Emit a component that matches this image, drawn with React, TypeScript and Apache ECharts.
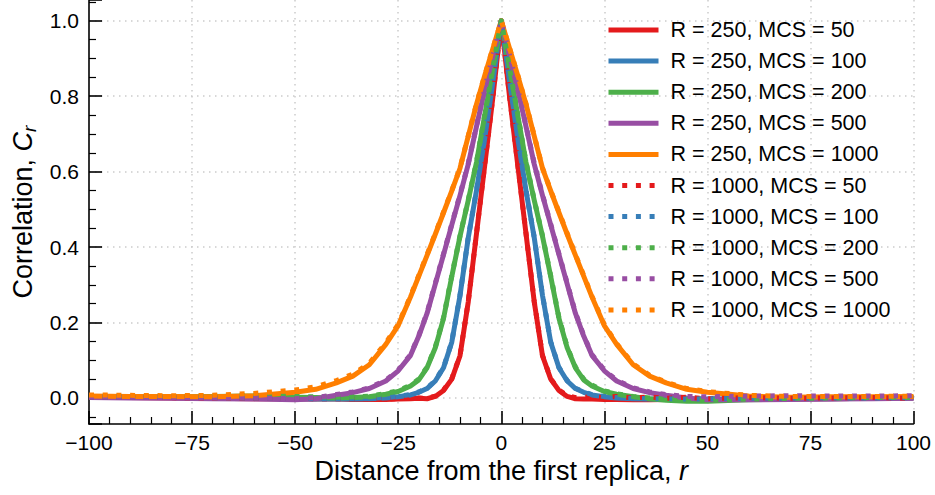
import { useEffect, useRef } from 'react';
import * as echarts from 'echarts';

const R = [-100, -90, -80, -70, -60, -50, -45, -40, -36, -32, -28, -25, -22, -20, -18, -16, -14, -12, -10, -8, -6, -4, -2, 0, 2, 4, 6, 8, 10, 12, 14, 16, 18, 20, 22, 25, 28, 32, 36, 40, 45, 50, 60, 70, 80, 90, 100];

const red250 = [0.002, 0.001, 0.0, -0.001, -0.002, -0.002, -0.003, -0.003, -0.004, -0.004, -0.004, -0.003, -0.002, -0.001, -0.002, 0.004, 0.02, 0.05, 0.112, 0.255, 0.436, 0.618, 0.8, 1.0, 0.8, 0.618, 0.436, 0.255, 0.112, 0.05, 0.02, 0.004, -0.002, -0.003, -0.003, -0.004, -0.004, -0.005, -0.005, -0.004, -0.004, -0.004, -0.003, -0.003, -0.002, -0.001, 0.0];
const blue250 = [0.002, 0.002, 0.001, 0.0, -0.001, -0.002, -0.003, -0.003, -0.003, -0.002, 0.0, 0.003, 0.008, 0.015, 0.025, 0.045, 0.08, 0.148, 0.272, 0.425, 0.55, 0.689, 0.84, 1.0, 0.84, 0.689, 0.55, 0.425, 0.272, 0.148, 0.08, 0.045, 0.025, 0.015, 0.008, 0.003, 0.0, -0.002, -0.003, -0.004, -0.004, -0.003, -0.003, -0.002, -0.002, -0.001, 0.0];
const green250 = [0.004, 0.003, 0.003, 0.004, 0.005, 0.002, 0.001, 0.0, 0.001, 0.003, 0.01, 0.017, 0.032, 0.048, 0.08, 0.133, 0.211, 0.322, 0.429, 0.524, 0.625, 0.75, 0.875, 1.0, 0.875, 0.75, 0.625, 0.524, 0.429, 0.322, 0.211, 0.133, 0.08, 0.048, 0.032, 0.017, 0.01, 0.003, -0.002, -0.006, -0.009, -0.009, -0.005, -0.002, -0.001, 0.0, 0.001];
const purple250 = [0.001, 0.0, -0.001, -0.002, -0.003, -0.005, -0.002, 0.007, 0.014, 0.025, 0.045, 0.072, 0.113, 0.164, 0.224, 0.302, 0.38, 0.459, 0.537, 0.62, 0.72, 0.818, 0.909, 1.0, 0.909, 0.818, 0.72, 0.62, 0.537, 0.459, 0.38, 0.302, 0.224, 0.164, 0.113, 0.072, 0.045, 0.025, 0.014, 0.007, 0.0, -0.005, -0.005, -0.004, -0.003, -0.002, -0.001];
const orange250 = [0.005, 0.004, 0.004, 0.003, 0.006, 0.015, 0.023, 0.04, 0.058, 0.088, 0.142, 0.192, 0.268, 0.323, 0.378, 0.434, 0.491, 0.549, 0.609, 0.694, 0.779, 0.855, 0.927, 1.0, 0.927, 0.855, 0.779, 0.694, 0.609, 0.549, 0.491, 0.434, 0.378, 0.323, 0.268, 0.192, 0.142, 0.088, 0.058, 0.04, 0.023, 0.015, 0.005, 0.002, 0.003, 0.003, 0.004];

const red1000 = [0.003, 0.002, 0.001, 0.0, -0.001, -0.001, -0.002, -0.002, -0.003, -0.002, -0.003, -0.002, -0.001, 0.0, -0.001, 0.005, 0.021, 0.051, 0.113, 0.256, 0.437, 0.619, 0.801, 1.0, 0.801, 0.619, 0.437, 0.256, 0.113, 0.051, 0.021, 0.006, 0.001, 0.002, 0.003, 0.001, 0.004, 0.0, 0.003, -0.001, 0.002, -0.002, 0.001, -0.001, 0.0, 0.001, -0.001];
const blue1000 = [0.003, 0.002, 0.002, 0.001, 0.0, -0.001, -0.002, -0.002, -0.002, -0.001, 0.001, 0.004, 0.009, 0.016, 0.026, 0.046, 0.081, 0.149, 0.273, 0.426, 0.551, 0.69, 0.841, 1.0, 0.841, 0.69, 0.551, 0.426, 0.273, 0.149, 0.081, 0.046, 0.026, 0.016, 0.009, 0.004, 0.001, -0.001, -0.002, -0.002, -0.003, -0.002, -0.001, -0.001, 0.0, 0.0, 0.001];
const green1000 = [0.005, 0.004, 0.004, 0.005, 0.007, 0.004, 0.003, 0.002, 0.003, 0.005, 0.012, 0.019, 0.034, 0.05, 0.082, 0.135, 0.213, 0.324, 0.43, 0.525, 0.626, 0.751, 0.876, 1.0, 0.876, 0.751, 0.626, 0.525, 0.43, 0.324, 0.213, 0.135, 0.082, 0.05, 0.034, 0.019, 0.011, 0.004, 0.0, -0.003, -0.005, -0.006, -0.003, -0.001, 0.0, 0.001, 0.001];
const purple1000 = [0.003, 0.002, 0.001, 0.0, 0.0, -0.002, 0.001, 0.009, 0.016, 0.027, 0.047, 0.074, 0.115, 0.166, 0.226, 0.304, 0.382, 0.461, 0.539, 0.622, 0.722, 0.82, 0.91, 1.0, 0.91, 0.82, 0.722, 0.622, 0.539, 0.461, 0.382, 0.304, 0.226, 0.166, 0.115, 0.074, 0.047, 0.027, 0.016, 0.009, 0.004, 0.003, 0.005, 0.006, 0.005, 0.005, 0.006];
const orange1000 = [0.008, 0.007, 0.006, 0.007, 0.012, 0.021, 0.03, 0.046, 0.063, 0.092, 0.146, 0.195, 0.27, 0.325, 0.38, 0.436, 0.493, 0.55, 0.61, 0.695, 0.78, 0.856, 0.928, 1.0, 0.928, 0.856, 0.78, 0.695, 0.61, 0.55, 0.493, 0.436, 0.38, 0.325, 0.27, 0.194, 0.144, 0.09, 0.06, 0.042, 0.025, 0.017, 0.007, 0.004, 0.004, 0.004, 0.005];

const seriesNames = [
  'R = 250, MCS = 50', 'R = 250, MCS = 100', 'R = 250, MCS = 200', 'R = 250, MCS = 500', 'R = 250, MCS = 1000',
  'R = 1000, MCS = 50', 'R = 1000, MCS = 100', 'R = 1000, MCS = 200', 'R = 1000, MCS = 500', 'R = 1000, MCS = 1000',
];
const seriesValues = [red250, blue250, green250, purple250, orange250, red1000, blue1000, green1000, purple1000, orange1000];
const palette = ['#e41a1c', '#377eb8', '#4daf4a', '#984ea3', '#ff7f00'];

const X_TICKS_INTERVAL = 25;

export default function App() {
  const ref = useRef<HTMLDivElement>(null);
  useEffect(() => {
    const chart = echarts.init(ref.current!, null, { renderer: 'svg' });
    const font = 'Liberation Sans';
    const series = seriesValues.map((vals, k) => ({
      name: seriesNames[k],
      type: 'line',
      data: R.map((r, i) => [r, vals[i]]),
      showSymbol: false,
      symbol: 'none',
      silent: true,
      emphasis: { disabled: true },
      lineStyle: {
        width: 5,
        color: palette[k % 5],
        type: k < 5 ? 'solid' : [5, 8.7],
        cap: 'butt',
        join: 'round',
      },
      itemStyle: { color: palette[k % 5] },
      z: k < 5 ? 2 : 3,
    }));
    const option: any = {
      animation: false,
      textStyle: { fontFamily: font },
      grid: { left: 89, right: 21.5, top: 0, bottom: 71, containLabel: false },
      legend: {
        orient: 'vertical',
        left: 606,
        top: 19,
        padding: 0,
        itemWidth: 50,
        itemHeight: 21,
        itemGap: 9.1,
        selectedMode: false,
        lineStyle: { width: 5 },
        itemStyle: { color: 'rgba(0,0,0,0)', borderWidth: 0, opacity: 0 },
        textStyle: { fontSize: 21.5, color: '#000', fontFamily: font, padding: [0, 0, 0, 7] },
        data: seriesNames,
      },
      xAxis: {
        type: 'value',
        min: -100,
        max: 100,
        interval: X_TICKS_INTERVAL,
        name: 'Distance from the first replica, {i|r}',
        nameLocation: 'middle',
        nameGap: 31,
        nameTextStyle: {
          fontSize: 27,
          color: '#000',
          fontFamily: font,
          rich: { i: { fontSize: 27, fontStyle: 'italic', fontFamily: font, color: '#000' } },
        },
        axisLine: { onZero: false, lineStyle: { color: '#000', width: 1.6 } },
        axisTick: { inside: true, length: 13, lineStyle: { color: '#000', width: 1.6 } },
        minorTick: { show: true, splitNumber: 5, length: 7, lineStyle: { color: '#000', width: 1.2 } },
        axisLabel: {
          fontSize: 21,
          color: '#000',
          margin: 8,
          fontFamily: font,
          formatter: (v: number) => (v < 0 ? '\u2212' + Math.abs(v) : String(v)),
        },
        splitLine: { show: true, showMinLine: false, showMaxLine: true, lineStyle: { color: '#cccccc', width: 1.5, type: [1.5, 4.5] } },
      },
      yAxis: {
        type: 'value',
        min: -0.069,
        max: 1.055,
        splitNumber: 5,
        name: 'Correlation, {i|C}{s|r}',
        nameLocation: 'middle',
        nameGap: 50,
        nameRotate: 90,
        nameTextStyle: {
          fontSize: 27,
          color: '#000',
          fontFamily: font,
          rich: {
            i: { fontSize: 27, fontStyle: 'italic', fontFamily: font, color: '#000' },
            s: { fontSize: 19, fontStyle: 'italic', fontFamily: font, color: '#000', padding: [12, 0, 0, 0] },
          },
        },
        axisLine: { onZero: false, lineStyle: { color: '#000', width: 1.6 } },
        axisTick: { inside: true, length: 13, lineStyle: { color: '#000', width: 1.6 } },
        minorTick: { show: true, splitNumber: 4, length: 7, lineStyle: { color: '#000', width: 1.2 } },
        axisLabel: {
          fontSize: 21,
          color: '#000',
          margin: 10,
          fontFamily: font,
          showMinLabel: false,
          showMaxLabel: false,
          formatter: (v: number) => v.toFixed(1),
        },
        splitLine: { show: true, showMinLine: false, showMaxLine: false, lineStyle: { color: '#cccccc', width: 1.5, type: [1.5, 4.5] } },
      },
      series,
    };
    chart.setOption(option);
    return () => chart.dispose();
  }, []);
  return <div ref={ref} style={{ position: 'absolute', left: 0, top: 0, width: 935, height: 495 }} />;
}
